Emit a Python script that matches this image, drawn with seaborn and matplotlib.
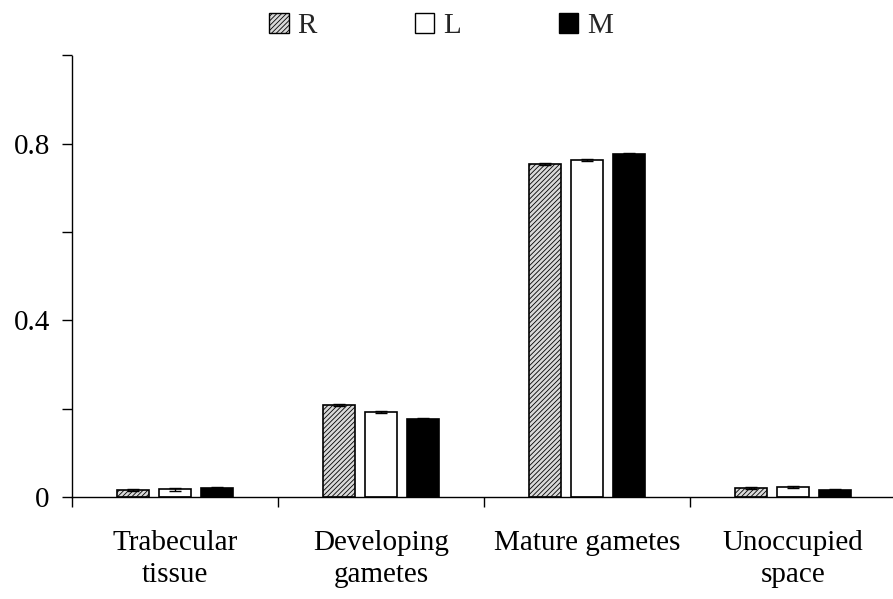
import matplotlib
matplotlib.use("Agg")
import matplotlib.pyplot as plt
import seaborn as sns
import pandas as pd
from matplotlib.patches import Patch
from matplotlib.ticker import MultipleLocator, FixedLocator, NullFormatter

categories = ["Trabecular\ntissue", "Developing\ngametes", "Mature gametes", "Unoccupied\nspace"]
groups = ["R", "L", "M"]
values_R = [0.016, 0.208, 0.755, 0.021]
values_L = [0.017, 0.193, 0.764, 0.022]
values_M = [0.020, 0.176, 0.778, 0.016]
err_R = [0.002, 0.003, 0.002, 0.002]
err_L = [0.003, 0.002, 0.002, 0.002]
err_M = [0.003, 0.004, 0.002, 0.002]

rows = []
for g, vals, errs in zip(groups, [values_R, values_L, values_M], [err_R, err_L, err_M]):
    for c, v, e in zip(categories, vals, errs):
        rows.append({"category": c, "group": g, "value": v, "err": e})
df = pd.DataFrame(rows)

sns.set_theme(style="ticks")
plt.rcParams["font.family"] = ["Liberation Serif", "DejaVu Serif"]
plt.rcParams["hatch.linewidth"] = 0.6

FS = 21

fig = plt.figure(figsize=(8.93, 5.99), dpi=100)
ax = fig.add_axes([72 / 893, (599 - 497) / 599, 1 - 72 / 893, (497 - 55.5) / 599])

palette = {"R": "white", "L": "white", "M": "black"}
sns.barplot(data=df, x="category", y="value", hue="group", order=categories,
            hue_order=groups, palette=palette, width=0.612, gap=0.24,
            errorbar=None, edgecolor="black", linewidth=1.2, legend=False, ax=ax)

# hatch the R bars and add error bars from the err columns
for g, container in zip(groups, ax.containers):
    for ci, patch in enumerate(container):
        if g == "R":
            patch.set_hatch("///////")
            patch.set_facecolor("#d9d9d9")
        x = patch.get_x() + patch.get_width() / 2
        sub = df[(df.group == g) & (df.category == categories[ci])]
        ax.errorbar(x, sub.value.iloc[0], yerr=sub.err.iloc[0], fmt="none",
                    ecolor="black", elinewidth=1, capsize=4, capthick=1, zorder=5)

ax.set_ylim(0, 1.0)
ax.set_xlim(-0.5, 3.485)
ax.yaxis.set_major_locator(FixedLocator([0, 0.4, 0.8]))
ax.yaxis.set_minor_locator(MultipleLocator(0.2))
ax.set_yticklabels(["0", "0.4", "0.8"])
ax.tick_params(axis="y", which="both", direction="out", length=7, width=1,
               colors="black", labelsize=FS, pad=9)

ax.xaxis.set_minor_locator(FixedLocator([-0.5, 0.5, 1.5, 2.5]))
ax.xaxis.set_minor_formatter(NullFormatter())
ax.tick_params(axis="x", which="major", length=0, labelsize=FS, pad=24, colors="black")
ax.tick_params(axis="x", which="minor", direction="out", length=7, width=1, colors="black")
for lbl in ax.get_xticklabels():
    lbl.set_linespacing(1.3)

ax.set_xlabel("")
ax.set_ylabel("")
sns.despine(ax=ax)
for sp in ["left", "bottom"]:
    ax.spines[sp].set_color("black")
    ax.spines[sp].set_linewidth(1)

handles = [
    Patch(facecolor="#d9d9d9", edgecolor="black", hatch="///////", linewidth=1, label="R"),
    Patch(facecolor="white", edgecolor="black", linewidth=1, label="L"),
    Patch(facecolor="black", edgecolor="black", linewidth=1, label="M"),
]
fig.legend(handles=handles, loc="center", bbox_to_anchor=(441 / 893, 1 - 26 / 599),
           ncol=3, frameon=False, fontsize=FS, handlelength=0.68, handleheight=0.68,
           handletextpad=0.3, columnspacing=3.35, borderpad=0)

fig.savefig("out.png", dpi=100, facecolor="white")
